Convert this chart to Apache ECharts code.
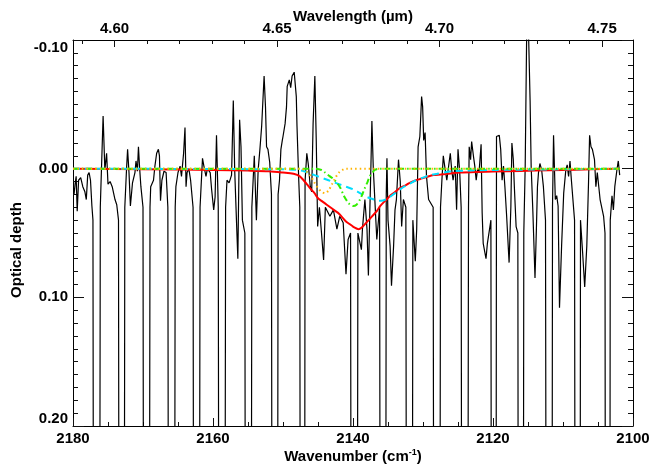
<!DOCTYPE html>
<html><head><meta charset="utf-8">
<script src="https://cdn.jsdelivr.net/npm/echarts@6/dist/echarts.min.js"></script>
<style>html,body{margin:0;padding:0;background:#fff}#c{width:664px;height:468px}</style>
</head><body><div id="c"></div>
<script>
// ---- observed spectrum (wavenumber cm-1, optical depth) ----
const specWn = [2179.85,2179.7,2179.55,2179.4,2179.2,2178.9,2178.6,2178.3,2178.1,2177.9,2177.7,2177.5,2177.3,
2177.15,2176.65,2176.1,
2175.95,2175.7,2175.45,2175.2,2175.0,2174.7,2174.4,2174.0,2173.75,
2173.5,2173.05,2172.6,
2172.35,2172.2,2172.0,2171.8,2171.5,2171.15,2171.0,2170.8,2170.65,2170.5,2170.3,
2170.0,2169.5,2169.0,
2168.9,2168.5,2168.3,2168.05,2167.8,2167.65,2167.5,2167.3,2167.0,2166.7,
2166.45,2165.9,2165.4,
2165.3,2165.0,2164.7,2164.5,2164.2,2164.0,2163.85,2163.7,2163.45,2163.2,
2162.85,2162.35,2161.85,
2161.5,2161.3,2161.0,2160.8,2160.4,2160.2,2159.9,2159.7,2159.5,
2159.25,2158.75,2158.2,
2158.0,2157.7,2157.35,2157.1,2156.9,2156.65,2156.45,2156.2,2156.0,2155.8,
2155.45,2154.95,2154.45,
2154.1,2153.8,2153.55,2153.3,2153.05,2152.7,2152.5,2152.35,2152.15,2151.9,
2151.65,2151.15,2150.7,
2150.5,2150.3,2150.1,2150.0,2149.7,2149.5,2149.4,2149.1,2148.9,2148.7,2148.4,2148.1,2148.0,2147.75,
2147.6,2147.2,2146.85,
2146.6,2146.4,2146.1,2145.9,2145.7,2145.45,2145.25,2145.05,
2144.8,2144.5,2144.2,2143.95,2143.8,2143.3,2142.8,2142.3,2141.9,2141.4,2141.0,2140.7,
2140.35,2139.8,2139.3,
2138.8,2138.65,2138.5,2138.3,2138.0,2137.8,2137.6,2137.45,2137.3,2137.1,2136.6,
2136.2,2135.7,2135.25,
2135.15,2135.0,2134.7,2134.5,2134.2,2134.0,2133.8,2133.5,2133.25,2133.05,2132.8,
2132.45,2131.9,2131.45,
2131.1,2130.9,2130.7,2130.45,2130.2,2130.05,2129.9,2129.7,2129.5,2129.2,
2128.55,2128.0,2127.5,
2127.3,2127.1,2126.9,2126.6,2126.1,2125.9,2125.7,2125.4,2125.2,2125.0,2124.75,
2124.55,2124.05,2123.5,
2123.4,2123.2,2123.05,2122.8,2122.6,2122.4,2122.2,2122.0,2121.9,2121.7,2121.55,2121.4,2121.0,2120.8,
2120.3,2119.85,2119.5,
2119.1,2118.9,2118.7,2118.5,2118.3,2118.05,2117.7,2117.45,2117.3,2117.1,2116.95,2116.7,
2116.45,2116.05,2115.6,
2115.4,2115.2,2115.05,2114.9,2114.7,2114.55,2114.3,2114.0,2113.8,2113.65,2113.5,2113.3,2113.05,2112.8,
2112.5,2111.9,2111.5,
2111.35,2111.1,2110.9,2110.7,2110.5,2110.2,2109.9,2109.6,2109.4,2109.2,2109.0,2108.8,
2108.35,2107.85,2107.5,
2107.2,2106.9,2106.6,2106.35,2106.2,2106.0,2105.8,2105.5,2105.3,2105.1,2104.7,2104.2,
2104.0,2103.6,2103.25,
2103.0,2102.8,2102.6,2102.3,2102.1,2101.9];
const specOd = [0.020,0.012,0.006,0.033,0.009,0.007,0.014,0.018,0.024,0.005,0.003,0.009,0.029,
0.04,2,0.03,
0.029,-0.041,0.001,-0.012,0.012,0.010,0.014,0.024,0.028,
0.04,2,0.03,
0.000,-0.015,0.003,0.029,0.011,0.003,-0.006,0.002,-0.017,-0.002,0.014,
0.03,2,0.03,
0.014,0.009,-0.002,-0.012,-0.015,-0.010,0.025,0.009,0.002,0.003,
0.03,2,0.03,
0.014,0.003,-0.002,0.006,-0.012,-0.032,0.014,0.003,0.000,0.009,
0.03,2,0.03,
-0.008,-0.002,0.006,0.000,0.003,0.016,0.032,0.022,-0.026,
0.03,2,0.03,
0.009,0.011,0.005,-0.053,0.001,0.040,0.070,-0.038,-0.017,0.040,
0.05,2,0.03,
-0.010,0.040,0.001,-0.015,-0.033,-0.072,-0.048,-0.017,-0.015,-0.005,
0.02,2,0.02,
0.009,-0.015,-0.022,-0.025,-0.035,-0.048,-0.064,-0.069,-0.063,-0.072,-0.075,-0.056,-0.033,0.009,
0.03,2,0.01,
-0.012,-0.004,0.014,0.018,-0.035,-0.072,-0.022,0.045,
0.03,0.05,0.071,0.03,0.029,0.037,0.032,0.047,0.037,0.042,0.082,0.055,
0.05,2,0.05,
0.063,0.047,0.037,0.024,0.047,0.083,0.034,0.0,-0.037,0.000,0.055,
0.03,2,0.02,
-0.008,0.04,0.06,0.091,0.06,0.032,0.024,-0.007,0.01,0.045,0.024,
0.03,2,0.04,
0.072,0.047,-0.017,-0.025,-0.056,-0.048,-0.022,-0.028,0.006,0.024,
0.03,2,0.03,
0.009,-0.010,-0.002,0.009,-0.012,0.001,0.009,-0.002,0.032,-0.015,0.003,
0.03,2,0.03,
-0.017,-0.007,-0.021,-0.010,-0.002,0.009,0.000,0.003,-0.004,-0.019,0.034,0.058,0.070,0.058,
0.04,2,-0.025,
-0.026,-0.015,0.009,-0.002,0.014,0.037,0.073,0.03,-0.020,-0.007,0.014,0.045,
0.05,2,0.05,
-0.002,-0.10,-0.13,-0.10,-0.053,-0.002,0.034,0.085,0.047,0.014,0.003,-0.004,0.001,0.014,
0.04,2,0.03,
-0.026,0.024,0.021,0.029,0.108,0.060,0.019,0.001,-0.003,0.006,-0.006,0.009,
0.04,2,0.04,
0.065,0.092,0.060,0.01,-0.026,-0.017,-0.015,-0.007,0.014,0.003,0.024,0.037,
0.05,2,0.04,
0.021,0.032,0.014,0.001,-0.006,0.005];

// ---- fit components ----
const redWn  = [2180,2170,2160,2155,2152,2150,2148.5,2147.6,2146.6,2146,2145.5,2145,2144.5,2144,2143.5,2143,2142.5,2142,2141.5,2141,2140.5,2140,2139.5,2139.2,2138.8,2138.1,2137.6,2137.1,2136.6,2136.1,2135.6,2135.2,2134.7,2134.2,2133.3,2132.5,2131.9,2131,2130.4,2129.5,2128.5,2127.5,2126.6,2124.7,2122,2118,2114,2110,2106,2101.9];
const redOd  = [0.000,0.0005,0.001,0.0015,0.002,0.003,0.004,0.006,0.012,0.016,0.019,0.023,0.025,0.027,0.029,0.031,0.033,0.035,0.038,0.041,0.043,0.045,0.0465,0.047,0.046,0.042,0.039,0.036,0.033,0.029,0.026,0.024,0.021,0.019,0.015,0.013,0.011,0.009,0.008,0.0065,0.005,0.0045,0.004,0.003,0.0025,0.002,0.0015,0.001,0.0005,0.000];
const greenWn = [2180,2145.5,2144.5,2144,2143.3,2142.8,2142.3,2141.8,2141.4,2141.0,2140.6,2140.0,2139.5,2139.0,2138.6,2138.3,2137.9,2137.6,2137.2,2136.9,2136.3,2101.9];
const greenOd = [0,0,0.001,0.003,0.006,0.008,0.011,0.015,0.020,0.024,0.027,0.029,0.028,0.024,0.019,0.015,0.010,0.006,0.003,0.001,0,0];
const cyanWn = [2180,2150,2148,2147,2146,2145,2144,2143,2142,2141,2140,2139,2138,2137,2136.5,2136,2135,2134,2133,2132,2131,2130,2129,2128,2126,2124,2120,2110,2101.9];
const cyanOd = [0,0.0005,0.001,0.002,0.004,0.006,0.008,0.010,0.012,0.014,0.016,0.019,0.022,0.024,0.025,0.025,0.023,0.019,0.015,0.012,0.009,0.007,0.005,0.004,0.002,0.0015,0.001,0.0005,0];
const orangeWn = [2180,2147.5,2147,2146.5,2146,2145.5,2145,2144.5,2144.0,2143.5,2143.0,2142.5,2142.0,2141.5,2141,2101.9];
const orangeOd = [0,0,0.001,0.003,0.006,0.011,0.015,0.018,0.019,0.017,0.012,0.007,0.003,0.001,0,0];

// ---- axis ticks ----
const topMajor = [4.60,4.65,4.70,4.75];
const topMinor = [4.59,4.61,4.62,4.63,4.64,4.66,4.67,4.68,4.69,4.71,4.72,4.73,4.74];
const lamMin = 4.5872, lamMax = 4.7595;

const zip = (a,b)=>a.map((v,i)=>[v,b[i]]);
const font = 'Liberation Sans, Arial, Helvetica, sans-serif';
const lbl = {show:true,color:'#000',fontFamily:font,fontWeight:'bold',fontSize:15};
const TC = '#111';
const axLine = {show:true,onZero:false,lineStyle:{color:'#000',width:1}};
const tk = (len,extra)=>Object.assign({show:true,inside:true,length:len,lineStyle:{color:TC,width:1}},extra||{});
const mtk = (n,len)=>({show:true,splitNumber:n,length:len,lineStyle:{color:TC,width:1}});

const chart = echarts.init(document.getElementById('c'),null,{renderer:'canvas'});
chart.setOption({
  animation:false,
  grid:{left:73,right:31,top:40,bottom:42},
  xAxis:[
    {type:'value',position:'bottom',min:2100,max:2180,inverse:true,interval:20,
     axisLine:axLine,splitLine:{show:false},
     axisTick:tk(8),minorTick:mtk(4,4),
     axisLabel:Object.assign({margin:5,formatter:v=>String(v)},lbl)},
    {type:'value',position:'top',min:lamMin,max:lamMax,
     axisLine:axLine,splitLine:{show:false},
     axisTick:tk(7,{customValues:topMajor}),
     axisLabel:Object.assign({margin:4,customValues:topMajor,formatter:v=>v.toFixed(2)},lbl)},
    {type:'value',position:'top',min:lamMin,max:lamMax,
     axisLine:{show:false,onZero:false},splitLine:{show:false},
     axisTick:tk(4,{customValues:topMinor}),
     axisLabel:{show:false}}
  ],
  yAxis:[
    {type:'value',position:'left',min:-0.1,max:0.2,interval:0.1,inverse:true,
     axisLine:axLine,splitLine:{show:false},
     axisTick:tk(11),minorTick:mtk(10,5),
     axisLabel:Object.assign({margin:5,verticalAlignMinLabel:'top',verticalAlignMaxLabel:'bottom',
       formatter:v=>(Math.abs(v)<1e-9?0:v).toFixed(2)},lbl)},
    {type:'value',position:'right',min:-0.1,max:0.2,interval:0.1,inverse:true,
     axisLine:axLine,splitLine:{show:false},
     axisTick:tk(11),minorTick:mtk(10,5),
     axisLabel:{show:false}}
  ],
  series:[
    {type:'line',data:zip(specWn,specOd),showSymbol:false,clip:true,z:2,
     lineStyle:{color:'#000',width:1.2}},
    {type:'line',data:zip(redWn,redOd),showSymbol:false,smooth:0.3,clip:true,z:3,
     lineStyle:{color:'#ff0000',width:2}},
    {type:'line',data:zip(cyanWn,cyanOd),showSymbol:false,smooth:0.3,clip:true,z:4,
     lineStyle:{color:'#00ddff',width:2,type:[7,5]}},
    {type:'line',data:zip(greenWn,greenOd),showSymbol:false,smooth:0.3,clip:true,z:5,
     lineStyle:{color:'#33ee00',width:2,type:[6,3,1.5,3]}},
    {type:'line',data:zip(orangeWn,orangeOd),showSymbol:false,smooth:0.3,clip:true,z:6,
     lineStyle:{color:'#ffb400',width:2,type:[1.5,3]}}
  ],
  graphic:[
    {type:'text',x:353,y:17,style:{text:'Wavelength (µm)',font:'bold 15px '+font,fill:'#000',textAlign:'center',textVerticalAlign:'middle'}},
    {type:'text',x:353,y:457,style:{text:'Wavenumber (cm{s|-1})',font:'bold 15px '+font,fill:'#000',textAlign:'center',textVerticalAlign:'middle',
      rich:{s:{fontSize:9,fontWeight:'bold',fontFamily:font,verticalAlign:'top',padding:[0,0,8,0]}}}},
    {type:'text',x:17,y:250,rotation:Math.PI/2,style:{text:'Optical depth',font:'bold 15px '+font,fill:'#000',textAlign:'center',textVerticalAlign:'middle'}}
  ]
});
</script></body></html>
